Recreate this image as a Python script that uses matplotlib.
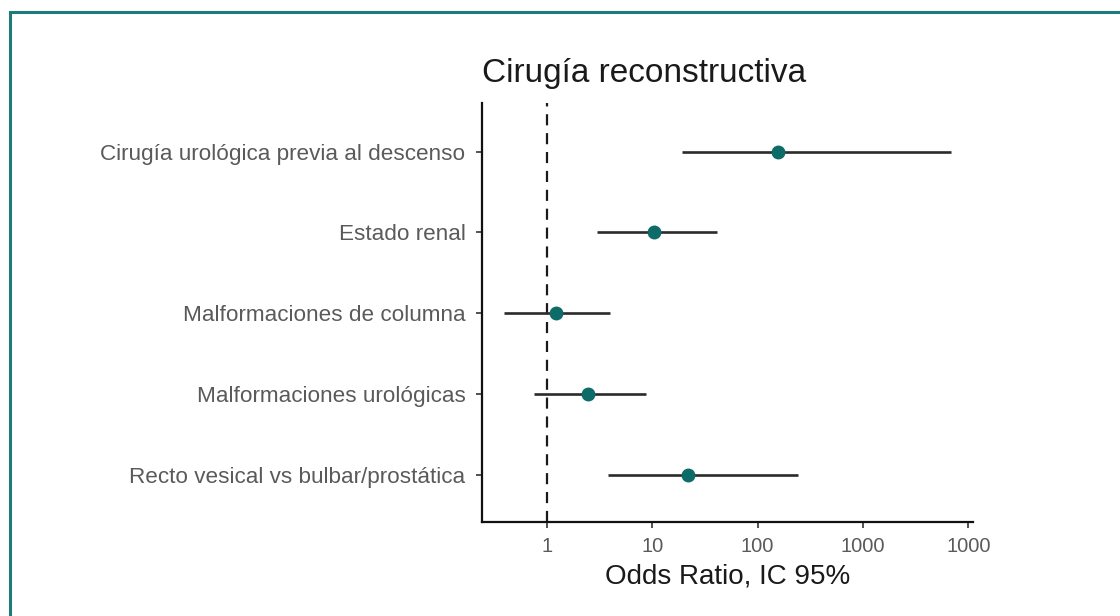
import matplotlib
matplotlib.use("Agg")
import matplotlib.pyplot as plt
from matplotlib.patches import Rectangle
import numpy as np

plt.rcParams['font.family'] = ['Liberation Sans', 'DejaVu Sans']

variables = [
    "Cirugía urológica previa al descenso",
    "Estado renal",
    "Malformaciones de columna",
    "Malformaciones urológicas",
    "Recto vesical vs bulbar/prostática",
]
odds = [156, 10.4, 1.22, 2.45, 21.9]
ci_low = [19.2, 3.0, 0.39, 0.75, 3.8]
ci_high = [6900, 41, 3.97, 8.7, 240]

tick_vals = [1, 10, 100, 1000, 10000]
tick_labels = ["1", "10", "100", "1000", "1000"]

fig = plt.figure(figsize=(11.2, 6.16), dpi=100)
ax = fig.add_axes([0.4304, 0.1526, 0.4384, 0.6802])

# teal frame around the figure
fig.patches.append(Rectangle((0.0085, -0.05), 1.2, 1.031, transform=fig.transFigure,
                             fill=False, edgecolor="#1f7a7c", linewidth=2.2))

ypos = np.arange(len(variables), 0, -1)
ax.hlines(ypos, ci_low, ci_high, color="#2b2b2b", linewidth=1.9, zorder=2)
ax.plot(odds, ypos, "o", color="#0d6b68", markersize=9, zorder=3)
ax.axvline(1, color="#1a1a1a", linestyle=(0, (5, 3.5)), linewidth=1.6, zorder=1)

ax.set_xscale("log")
ax.set_xlim(0.2415, 11100)
ax.set_ylim(0.42, 5.6)
ax.set_xticks(tick_vals)
ax.set_xticklabels(tick_labels)
ax.minorticks_off()
ax.set_yticks(ypos)
ax.set_yticklabels(variables)

for side in ("top", "right"):
    ax.spines[side].set_visible(False)
for side in ("left", "bottom"):
    ax.spines[side].set_linewidth(1.6)
    ax.spines[side].set_color("#111111")
ax.tick_params(axis="both", colors="#333333", labelcolor="#5a5a5a",
               length=4, width=1.2)
ax.tick_params(axis="y", labelsize=16.2, pad=8)
ax.tick_params(axis="x", labelsize=14.5, pad=7)

ax.set_title("Cirugía reconstructiva", fontsize=24, color="#1a1a1a",
             loc="left", pad=15)
ax.set_xlabel("Odds Ratio, IC 95%", fontsize=20, color="#1a1a1a", labelpad=5)

fig.savefig("out.png", dpi=100, facecolor="white")
